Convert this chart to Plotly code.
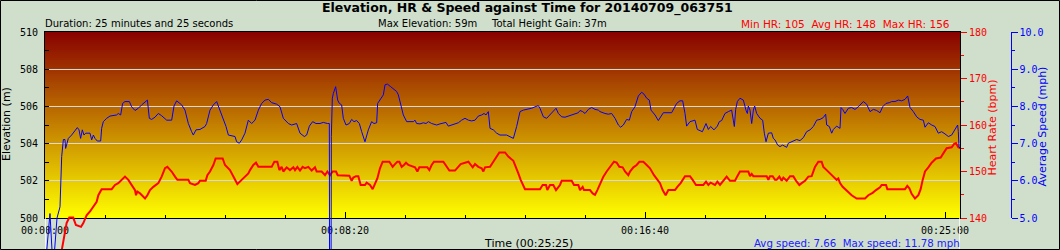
import plotly.graph_objects as go

# ---------------- data ----------------
hr_time = [0, 18, 27.8, 36, 40.5, 47, 51.5, 60, 63.9, 69.4, 75, 80.6, 86.1, 88.9, 94.4, 111.1, 116.7, 122.2,
           127.8, 133.3, 138.9, 144.4, 150, 151.7, 153.9, 158.3, 163.9, 166.7, 170.6, 175, 180.6, 188.9, 194.4,
           200, 203.9, 211.1, 216.7, 220.6, 238.9, 241.7, 250, 255.6, 258.3, 267.8, 270.6, 275, 280.6, 284.4,
           296.1, 300, 308.3, 313.9, 320.6, 327.8, 333.3, 338.9, 341.7, 347.2, 351.7, 355.6, 377.8, 382.2,
           387.2, 390.6, 394.4, 397.2, 402.8, 408.3, 413.9, 416.7, 420.6, 425, 429.4, 433.3, 438.9, 444.4,
           450, 452.8, 461.1, 466.7, 470.6, 475, 479.4, 485, 487.8, 491.7, 496.1, 507.2, 511.1, 513.9, 518.3,
           522.2, 526.1, 533.3, 536.1, 541.7, 546.1, 550, 553.9, 558.3, 562.8, 573.9, 579.4, 583.3, 587.2,
           590.6, 594.4, 598.3, 601.7, 605.6, 611.1, 616.7, 620.6, 623.9, 637.2, 640.6, 644.4, 648.3, 663.9,
           669.4, 673.9, 683.3, 688.9, 692.8, 705.6, 709.4, 712.8, 716.7, 722.2, 727.8, 730.6, 733.3, 741.7,
           747.2, 752.8, 757.2, 766.7, 772.2, 780.6, 785, 788.9, 792.8, 800, 825, 829.4, 835, 837.2, 841.7,
           847.2, 851.7, 858.3, 861.1, 877.8, 881.7, 888.9, 891.7, 896.1, 898.3, 908.3, 912.8, 916.7, 920.6,
           925, 930.6, 936.1, 941.7, 948.3, 952.8, 957.2, 962.8, 966.7, 972.2, 975, 980.6, 986.1, 990.6, 997.2,
           1002.8, 1008.3, 1015, 1020.6, 1025, 1029.4, 1034.4, 1038.9, 1050, 1053.9, 1059.4, 1066.7, 1075,
           1079.4, 1085, 1097.2, 1101.7, 1105.6, 1109.4, 1116.7, 1120.6, 1125, 1129.4, 1133.3, 1136.1, 1141.7,
           1150, 1153.9, 1158.3, 1172.2, 1175, 1177.8, 1180.6, 1202.8, 1205.6, 1208.3, 1212.8, 1216.7, 1219.4,
           1223.9, 1227.8, 1230.6, 1236.1, 1241.7, 1247.2, 1251.7, 1257.2, 1261.1, 1266.7, 1272.2, 1277.8,
           1283.3, 1288.9, 1294.4, 1297.2, 1302.8, 1308.3, 1313.9, 1319.4, 1322.2, 1325, 1329.4, 1335, 1340.6,
           1344.4, 1352.8, 1366.7, 1372.2, 1379.4, 1385, 1391.7, 1394.4, 1401.7, 1403.9, 1433.3, 1437.2,
           1440.6, 1444.4, 1450, 1455.6, 1459.4, 1462.8, 1466.7, 1472.2, 1477.8, 1485, 1492.8, 1497.2, 1502.8,
           1511.1, 1515, 1518.3, 1522.2, 1525]
hr_bpm = [105, 120, 133, 138.9, 140.1, 140.1, 138.5, 138.1, 138.9, 140.6, 141.4, 142.4, 143.5, 144.9, 146.2,
          146.2, 147.1, 147.5, 148.2, 148.9, 148.2, 147.1, 146.0, 144.9, 145.7, 145.3, 144.6, 144.2, 144.9,
          146.0, 146.7, 147.5, 148.9, 150.7, 151.0, 150.0, 148.9, 148.2, 148.2, 147.5, 147.1, 147.5, 148.0,
          148.0, 149.2, 150.0, 151.4, 152.8, 152.8, 151.4, 150.3, 148.9, 147.3, 148.2, 148.9, 149.6, 150.3,
          151.4, 151.9, 151.0, 151.0, 152.1, 152.1, 150.3, 151.0, 150.0, 150.9, 150.3, 150.9, 150.3, 151.0,
          150.2, 151.0, 150.7, 151.0, 150.2, 150.9, 150.0, 150.0, 149.2, 150.0, 149.2, 150.0, 150.0, 149.2,
          149.2, 149.2, 149.1, 148.0, 148.7, 149.0, 149.0, 147.1, 147.1, 147.6, 147.1, 146.2, 147.5, 148.5,
          150.7, 152.1, 152.1, 151.0, 151.6, 152.1, 152.1, 151.0, 151.4, 151.9, 151.4, 151.2, 150.9, 150.0,
          150.9, 150.9, 150.3, 151.4, 152.1, 152.1, 150.9, 150.2, 150.2, 150.9, 151.6, 152.1, 151.4, 150.9,
          151.6, 151.0, 150.7, 150.0, 150.9, 151.0, 152.1, 153.2, 154.1, 154.1, 153.2, 152.3, 151.0, 149.6,
          148.2, 146.2, 146.2, 147.1, 147.1, 146.0, 147.1, 147.1, 146.0, 147.1, 148.0, 148.0, 147.1, 147.1,
          146.0, 146.7, 146.0, 146.0, 145.3, 145.0, 146.0, 147.3, 148.9, 150.0, 151.0, 152.1, 151.9, 151.0,
          150.9, 150.0, 149.2, 150.0, 150.9, 151.4, 152.1, 152.1, 151.4, 150.7, 149.2, 148.3, 147.5, 146.0,
          144.9, 146.0, 146.0, 146.7, 147.5, 149.0, 149.0, 148.2, 147.1, 147.1, 147.8, 147.1, 147.6, 147.1,
          147.8, 147.1, 147.8, 148.2, 148.9, 148.0, 148.0, 149.0, 150.0, 150.0, 149.0, 149.5, 149.0, 149.0,
          148.2, 149.0, 149.0, 148.2, 148.2, 148.9, 148.0, 148.7, 148.0, 149.0, 149.0, 148.0, 147.1, 147.5,
          148.0, 148.9, 149.0, 151.0, 152.1, 152.1, 151.0, 150.3, 149.6, 149.0, 148.2, 148.5, 147.5, 146.7,
          146.0, 145.4, 144.9, 144.2, 144.2, 144.9, 145.4, 146.0, 146.6, 147.1, 147.1, 146.2, 146.2, 146.9,
          146.4, 145.2, 144.2, 144.9, 146.2, 148.2, 150.0, 150.9, 151.9, 152.8, 153.0, 153.9, 155.0, 155.2,
          155.9, 156.1, 155.2, 155.0]

speed_time = [0, 8.3, 13.5, 20, 25, 26.1, 27.8, 30.6, 33.3, 34.4, 36.1, 38.9, 44.4, 50, 53.9, 56.7, 59.4, 62.2,
              65, 67.8, 75, 77.8, 80.6, 83.3, 87.2, 92.8, 94.4, 97.2, 102.8, 108.3, 119.4, 122.2, 126.1, 129.4,
              133.3, 140.6, 144.4, 150, 155.6, 161.1, 166.7, 170.6, 173.9, 177.8, 183.3, 188.9, 194.4, 202.8,
              211.1, 215, 219.4, 227.8, 233.3, 238.9, 244.4, 247.2, 251.7, 258.3, 266.7, 269.4, 275, 280.6,
              286.1, 291.7, 297.2, 301.7, 305.6, 311.1, 316.7, 319.4, 323.9, 327.8, 333.3, 338.9, 344.4, 350,
              355.6, 361.1, 366.7, 372.2, 377.8, 386.1, 391.7, 397.2, 405.6, 411.1, 419.4, 425, 432.2, 436.1,
              440.6, 446.1, 451.7, 458.3, 463.9, 470.6, 473.9, 474.6, 476.4, 477.2, 478.9, 480.6, 484.4, 487.8,
              490.6, 494.4, 497.2, 501.7, 507.2, 511.1, 515, 519.4, 523.9, 527.8, 533.3, 538.9, 544.4, 548.3,
              552.8, 554.4, 558.3, 563.9, 566.7, 570.6, 576.1, 586.1, 588.9, 594.4, 597.2, 602.8, 608.3, 613.9,
              616.7, 619.4, 625, 630.6, 635, 638.9, 644.4, 652.8, 658.3, 663.9, 668.3, 672.2, 680.6, 688.9,
              694.4, 700, 705.6, 711.1, 716.7, 722.2, 727.8, 731.7, 735, 738.9, 741.7, 747.2, 752.8, 758.3,
              769.4, 775, 780.6, 786.1, 791.7, 797.2, 805.6, 811.1, 816.7, 822.2, 825, 830.6, 836.1, 841.7,
              847.2, 851.7, 855.6, 861.1, 866.7, 872.2, 877.8, 883.3, 888.9, 891.7, 896.1, 900, 905.6, 911.1,
              916.7, 922.2, 925, 933.3, 938.9, 944.4, 950, 955.6, 959.4, 963.9, 969.4, 973.9, 977.8, 983.3,
              988.9, 994.4, 998.3, 1002.8, 1007.2, 1010, 1016.7, 1022.2, 1030.6, 1044.4, 1052.8, 1058.3, 1062.8,
              1066.7, 1069.4, 1075, 1083.3, 1087.2, 1091.7, 1095.6, 1101.7, 1105.6, 1109.4, 1115, 1120.6,
              1123.9, 1127.8, 1133.3, 1138.9, 1144.4, 1147.2, 1148.9, 1151.1, 1153.9, 1158.3, 1163.9, 1168.3,
              1170.6, 1172.2, 1175, 1177.8, 1180.6, 1182.8, 1186.1, 1191.7, 1196.1, 1198.9, 1201.7, 1205.6,
              1211.1, 1213.9, 1216.7, 1221.1, 1225, 1229.4, 1233.3, 1236.1, 1238.9, 1244.4, 1252.8, 1258.3,
              1263.9, 1269.4, 1275, 1280.6, 1286.1, 1291.7, 1297.2, 1301.1, 1302.8, 1307.2, 1311.1, 1313.9,
              1319.4, 1325, 1326.7, 1329.4, 1333.3, 1338.9, 1344.4, 1350, 1355.6, 1363.9, 1369.4, 1375, 1380.6,
              1386.1, 1391.7, 1396.1, 1401.7, 1407.2, 1411.1, 1416.7, 1422.2, 1427.8, 1433.3, 1437.8, 1441.7,
              1447.2, 1452.8, 1458.3, 1463.9, 1466.7, 1472.2, 1477.8, 1483.3, 1488.9, 1494.4, 1500, 1505.6,
              1511.1, 1516.7, 1521.1, 1522.2, 1523.3, 1525]
speed_mph = [3.6, 5.12, 3.6, 5.0, 5.3, 5.80, 6.65, 7.11, 7.11, 6.87, 7.01, 7.14, 7.23, 7.37, 7.43, 7.37, 7.14,
             7.37, 7.23, 7.28, 7.28, 7.10, 7.23, 7.14, 7.07, 7.07, 7.41, 7.59, 7.68, 7.74, 7.77, 7.81, 7.77,
             8.08, 8.13, 8.13, 7.99, 7.89, 7.95, 8.04, 8.13, 8.17, 7.68, 7.65, 7.71, 7.81, 7.75, 7.63, 7.63,
             8.01, 8.15, 8.04, 7.90, 7.54, 7.32, 7.23, 7.37, 7.38, 7.46, 7.54, 7.90, 8.04, 8.13, 7.90, 7.68,
             7.46, 7.23, 7.20, 7.19, 7.05, 7.01, 7.10, 7.28, 7.63, 7.54, 7.63, 7.90, 8.08, 8.17, 8.19, 8.10,
             8.06, 7.99, 7.68, 7.54, 7.50, 7.54, 7.28, 7.19, 7.23, 7.47, 7.59, 7.54, 7.54, 7.57, 7.54, 7.54,
             0, 0, 7.19, 8.22, 8.35, 8.53, 8.17, 8.08, 8.04, 7.68, 7.50, 7.54, 7.65, 7.59, 7.62, 7.54, 7.32,
             7.05, 7.37, 7.59, 7.54, 7.56, 8.08, 8.17, 8.31, 8.58, 8.60, 8.53, 8.40, 8.31, 7.99, 7.77, 7.59,
             7.59, 7.59, 7.63, 7.54, 7.53, 7.56, 7.54, 7.59, 7.54, 7.50, 7.53, 7.56, 7.57, 7.47, 7.52, 7.56,
             7.63, 7.68, 7.63, 7.61, 7.63, 7.74, 7.77, 7.81, 7.77, 7.86, 7.41, 7.37, 7.28, 7.23, 7.23, 7.19,
             7.14, 7.46, 7.86, 7.90, 7.92, 7.95, 7.99, 8.02, 7.95, 7.72, 7.68, 7.77, 7.86, 7.95, 7.81, 7.72,
             7.71, 7.74, 7.77, 7.81, 7.83, 7.89, 7.86, 7.81, 7.92, 7.97, 7.92, 7.90, 7.86, 7.81, 7.79, 7.81,
             7.68, 7.50, 7.44, 7.50, 7.65, 7.63, 7.86, 7.99, 8.28, 8.38, 8.33, 8.22, 8.17, 7.90, 7.77, 7.62,
             7.83, 7.83, 8.08, 8.15, 8.15, 7.81, 7.47, 7.59, 7.63, 7.38, 7.35, 7.32, 7.54, 7.38, 7.46, 7.37,
             7.47, 7.59, 7.62, 7.81, 7.86, 7.90, 7.63, 7.46, 7.92, 8.13, 8.22, 8.17, 7.90, 7.81, 8.01, 7.90,
             7.54, 7.90, 8.01, 7.81, 7.68, 7.63, 7.28, 7.05, 7.28, 7.29, 7.14, 7.10, 6.96, 6.92, 6.96, 6.92,
             6.90, 7.01, 7.05, 7.11, 7.08, 7.16, 7.32, 7.37, 7.46, 7.63, 7.65, 7.70, 7.79, 7.50, 7.46, 7.28,
             7.38, 7.47, 7.41, 7.97, 7.92, 7.81, 7.95, 7.97, 7.92, 7.99, 8.13, 8.06, 7.86, 7.92, 7.89, 7.83,
             7.99, 8.08, 8.10, 8.13, 8.13, 8.17, 8.15, 8.19, 8.28, 7.97, 7.86, 7.72, 7.65, 7.63, 7.44, 7.56,
             7.50, 7.46, 7.28, 7.32, 7.26, 7.19, 7.23, 7.37, 7.50, 7.32, 6.92, 6.87]

elev_range = [500, 510]
hr_range = [140, 180]
speed_range = [5.0, 10.0]
duration_s = 1525
x_tickvals = [0, 500, 1000, 1500]

title_text = "Elevation, HR & Speed against Time for 20140709_063751"
duration_text = "Duration: 25 minutes and 25 seconds"
max_elev_text = "Max Elevation: 59m"
gain_text = "Total Height Gain: 37m"
hr_stats_text = "Min HR: 105  Avg HR: 148  Max HR: 156"
speed_stats_text = "Avg speed: 7.66  Max speed: 11.78 mph"
time_title = "Time (00:25:25)"


def hms(s):
    s = int(s)
    return f"{s // 3600:02d}:{(s % 3600) // 60:02d}:{s % 60:02d}"


# ---------------- geometry (pixels) ----------------
W, H = 1060, 250
ML, MT = 45, 32
PLOT_R, PLOT_B = 960, 218
area_w, area_h = W - ML, H - MT
plot_h = PLOT_B - MT
below = H - PLOT_B


def xp(px):
    return (px - ML) / area_w


def yp(py):
    return (H - py) / area_h


x_dom = [0, xp(PLOT_R)]
y_dom = [yp(PLOT_B), 1]
hr_ext = [hr_range[0] - below * (hr_range[1] - hr_range[0]) / plot_h, hr_range[1]]
sp_ext = [speed_range[0] - below * (speed_range[1] - speed_range[0]) / plot_h, speed_range[1]]

BG = "#cfdfcc"
RED = "#ff0000"
BLUE = "#0000ff"
SANS = "DejaVu Sans"
MONO = "DejaVu Sans Mono"

fig = go.Figure()
fig.add_trace(go.Scatter(x=[None], y=[None], xaxis="x", yaxis="y", showlegend=False, hoverinfo="skip"))
fig.add_trace(go.Scatter(x=[None], y=[None], xaxis="x", yaxis="y4", showlegend=False, hoverinfo="skip"))
fig.add_trace(go.Scatter(x=[None], y=[None], xaxis="x", yaxis="y5", showlegend=False, hoverinfo="skip"))
fig.add_trace(go.Scatter(x=hr_time, y=hr_bpm, mode="lines", xaxis="x", yaxis="y2",
                         line=dict(color=RED, width=2), showlegend=False, hoverinfo="skip"))
fig.add_trace(go.Scatter(x=speed_time, y=speed_mph, mode="lines", xaxis="x", yaxis="y3",
                         line=dict(color=BLUE, width=1), showlegend=False, hoverinfo="skip"))

# background gradient (dark red at top -> yellow at bottom)
N = 93
top_c, bot_c = (136, 0, 0), (255, 255, 0)
shapes = []
for i in range(N):
    f = (i + 0.5) / N  # 0 bottom .. 1 top
    c = tuple(round(bot_c[k] + (top_c[k] - bot_c[k]) * f) for k in range(3))
    shapes.append(dict(type="rect", xref="x domain", yref="y domain", x0=0, x1=1,
                       y0=i / N, y1=min(1, (i + 1) / N + 0.004), layer="below",
                       line=dict(width=0), fillcolor=f"rgb{c}"))
# vertical edges below the plot at start and end of the track
for t in (hr_time[0], duration_s):
    shapes.append(dict(type="line", xref="x", yref="paper", x0=t, x1=t, y0=0, y1=y_dom[0],
                       line=dict(color="white", width=1.5), layer="above"))
# outer border
shapes.append(dict(type="rect", xref="paper", yref="paper", x0=xp(0.5), x1=xp(W - 0.5),
                   y0=yp(H - 0.5), y1=yp(0.5), line=dict(color="black", width=1), layer="above"))

axis_common = dict(zeroline=False, showgrid=False, automargin=False)
fig.update_layout(
    width=W, height=H,
    margin=dict(l=ML, r=0, t=MT, b=0, pad=0, autoexpand=False),
    paper_bgcolor=BG, plot_bgcolor="rgba(0,0,0,0)",
    showlegend=False,
    shapes=shapes,
    xaxis=dict(domain=x_dom, range=[0, duration_s], anchor="y",
               tickmode="array", tickvals=x_tickvals, ticktext=[hms(v) for v in x_tickvals],
               ticks="inside", ticklen=6, tickcolor="black", tickwidth=1,
               minor=dict(tickmode="linear", tick0=0, dtick=100, ticks="inside", ticklen=3,
                          tickcolor="black", showgrid=False),
               showline=True, linecolor="black", linewidth=1, mirror=True,
               tickfont=dict(family=MONO, size=10, color="black"), ticklabelstandoff=3,
               **axis_common),
    yaxis=dict(domain=y_dom, range=elev_range, anchor="x", tick0=500, dtick=2,
               ticks="inside", ticklen=4, tickcolor="black",
               minor=dict(dtick=1, ticks="inside", ticklen=4, tickcolor="black", showgrid=False),
               showline=True, linecolor="black", linewidth=1, mirror=True,
               showgrid=True, gridcolor="#dadada", gridwidth=1, zeroline=False, automargin=False,
               tickfont=dict(family=MONO, size=10, color="black"), ticklabelstandoff=4),
    yaxis2=dict(domain=[0, 1], range=hr_ext, anchor="x", visible=False, **axis_common),
    yaxis3=dict(domain=[0, 1], range=sp_ext, anchor="x", visible=False, **axis_common),
    yaxis4=dict(overlaying="y", side="right", anchor="x", range=hr_range, tick0=140, dtick=10,
                ticks="outside", ticklen=6, tickcolor=RED,
                minor=dict(dtick=5, ticks="outside", ticklen=3, tickcolor=RED, showgrid=False),
                showline=False, tickfont=dict(family=MONO, size=10, color=RED), **axis_common),
    yaxis5=dict(overlaying="y", side="right", anchor="free", position=xp(1010.5), range=speed_range,
                tick0=5, dtick=1, tickformat=".1f", ticks="outside", ticklen=6, tickcolor=BLUE,
                minor=dict(dtick=0.5, ticks="outside", ticklen=3, tickcolor=BLUE, showgrid=False),
                showline=True, linecolor=BLUE, linewidth=1,
                tickfont=dict(family=MONO, size=10, color=BLUE), **axis_common),
)

ann = [
    dict(text=f"<b>{title_text}</b>", x=xp(527), y=yp(8), xanchor="center", yanchor="middle",
         font=dict(family=SANS, size=12.5, color="black")),
    dict(text=duration_text, x=xp(43), y=yp(23.5), xanchor="left", yanchor="middle",
         font=dict(family=SANS, size=10, color="black")),
    dict(text=max_elev_text, x=xp(376), y=yp(23.5), xanchor="left", yanchor="middle",
         font=dict(family=SANS, size=10, color="black")),
    dict(text=gain_text, x=xp(489), y=yp(23.5), xanchor="left", yanchor="middle",
         font=dict(family=SANS, size=10, color="black")),
    dict(text=hr_stats_text, x=xp(952), y=yp(23.5), xanchor="right", yanchor="middle",
         font=dict(family=SANS, size=10.5, color=RED)),
    dict(text=time_title, x=xp(528), y=yp(243), xanchor="center", yanchor="middle",
         font=dict(family=SANS, size=11, color="black")),
    dict(text=speed_stats_text, x=xp(752), y=yp(243), xanchor="left", yanchor="middle",
         font=dict(family=SANS, size=10.2, color="#2020ff")),
    dict(text="Elevation (m)", x=xp(6), y=yp(124), xanchor="center", yanchor="middle", textangle=-90,
         font=dict(family=SANS, size=11, color="black")),
    dict(text="Heart Rate (bpm)", x=xp(992), y=yp(127.5), xanchor="center", yanchor="middle", textangle=-90,
         font=dict(family=SANS, size=11, color=RED)),
    dict(text="Average Speed (mph)", x=xp(1042), y=yp(126.5), xanchor="center", yanchor="middle",
         textangle=-90, font=dict(family=SANS, size=11, color=BLUE)),
]
for a in ann:
    a.update(xref="paper", yref="paper", showarrow=False)
fig.update_layout(annotations=ann)

fig.write_html("out.html")
